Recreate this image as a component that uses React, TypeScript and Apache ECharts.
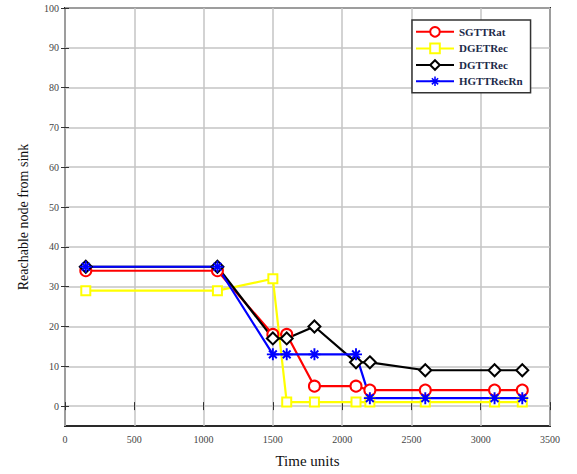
import React, { useEffect, useRef } from "react";
import * as echarts from "echarts";

const xValues = [150, 1100, 1500, 1600, 1800, 2100, 2200, 2600, 3100, 3300];
const sgttRat = [34, 34, 18, 18, 5, 5, 4, 4, 4, 4];
const dgetRec = [29, 29, 32, 1, 1, 1, 1, 1, 1, 1];
const dgttRec = [35, 35, 17, 17, 20, 11, 11, 9, 9, 9];
const hgttRecRn = [35, 35, 13, 13, 13, 13, 2, 2, 2, 2];
const seriesNames = ["SGTTRat", "DGETRec", "DGTTRec", "HGTTRecRn"];
const yTicks = [0, 10, 20, 30, 40, 50, 60, 70, 80, 90, 100];

const asterisk =
  "path://M0 4.2 H10 V5.8 H0 Z M4.2 0 H5.8 V10 H4.2 Z M1.18 2.32 L2.32 1.18 L8.82 7.68 L7.68 8.82 Z M2.32 8.82 L1.18 7.68 L7.68 1.18 L8.82 2.32 Z";

const pair = (ys: number[]) => xValues.map((x, i) => [x, ys[i]]);

export default function App() {
  const ref = useRef<HTMLDivElement>(null);
  useEffect(() => {
    if (!ref.current) return;
    const chart = echarts.init(ref.current, null, { renderer: "svg" });
    const serif = "'Liberation Serif', 'Times New Roman', serif";
    const mk = (name: string, data: number[], color: string, symbol: string, size: number) => ({
      name,
      type: "line",
      data: pair(data),
      symbol,
      symbolSize: size,
      lineStyle: { color, width: 2.2 },
      itemStyle: { color, borderColor: color, borderWidth: 2 },
      z: 3,
    });
    const grid = { color: "#c4c4c4", width: 1.5, type: "solid" };
    chart.setOption({
      animation: false,
      backgroundColor: "#fff",
      grid: {
        left: 65,
        right: 27,
        top: 8,
        bottom: 48,
        show: true,
        borderColor: "#2a2a2a",
        borderWidth: 2,
        backgroundColor: "transparent",
      },
      legend: {
        orient: "vertical",
        left: 412,
        top: 20,
        data: seriesNames,
        itemWidth: 38,
        itemHeight: 12,
        itemGap: 5,
        padding: [6, 8, 6, 3],
        backgroundColor: "#fff",
        borderColor: "#333",
        borderWidth: 1.5,
        textStyle: { fontFamily: serif, fontSize: 11, fontWeight: "bold", color: "#1c2a4a" },
      },
      xAxis: [
        {
          type: "value",
          min: 0,
          max: 3500,
          interval: 500,
          name: "Time units",
          nameLocation: "middle",
          nameGap: 27,
          nameTextStyle: { fontFamily: serif, fontSize: 15, color: "#111" },
          axisLine: { show: false },
          axisTick: { show: true, inside: true, length: 4, lineStyle: { color: "#333" } },
          axisLabel: {
            fontFamily: serif,
            fontSize: 10,
            color: "#444",
            margin: 8,
            formatter: (v: number) => String(v),
          },
          splitLine: { show: true, lineStyle: grid },
        },
        {
          type: "value",
          position: "top",
          min: 0,
          max: 3500,
          interval: 500,
          axisLine: { show: false },
          axisTick: { show: true, inside: true, length: 4, lineStyle: { color: "#333" } },
          axisLabel: { show: false },
          splitLine: { show: false },
        },
      ],
      yAxis: [
        {
          type: "value",
          min: -5,
          max: 100,
          name: "Reachable node from sink",
          nameLocation: "middle",
          nameGap: 35,
          nameTextStyle: { fontFamily: serif, fontSize: 14, color: "#111" },
          axisLine: { show: false },
          axisTick: { inside: true, length: 4, lineStyle: { color: "#333" }, customValues: yTicks },
          axisLabel: { fontFamily: serif, fontSize: 10, color: "#444", margin: 6, customValues: yTicks },
          splitLine: { show: true, lineStyle: grid, customValues: yTicks },
        },
        {
          type: "value",
          position: "right",
          min: -5,
          max: 100,
          axisLine: { show: false },
          axisTick: { inside: true, length: 4, lineStyle: { color: "#333" }, customValues: yTicks },
          axisLabel: { show: false, customValues: yTicks },
          splitLine: { show: false },
        },
      ],
      series: [
        mk(seriesNames[0], sgttRat, "#ff0000", "emptyCircle", 11),
        mk(seriesNames[1], dgetRec, "#ffff00", "emptyRect", 9),
        mk(seriesNames[2], dgttRec, "#000000", "emptyDiamond", 12),
        {
          ...mk(seriesNames[3], hgttRecRn, "#0000ff", asterisk, 12),
          itemStyle: { color: "#0000ff", borderWidth: 0 },
        },
      ],
    });
    return () => chart.dispose();
  }, []);
  return <div ref={ref} style={{ position: "fixed", left: 0, top: 0, width: 577, height: 474 }} />;
}
